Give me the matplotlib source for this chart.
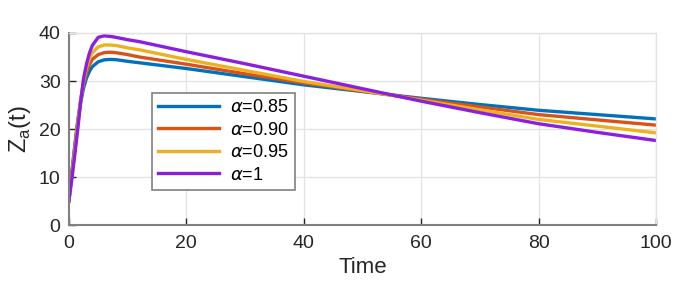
import matplotlib
matplotlib.use("Agg")
import matplotlib.pyplot as plt

# time samples
t = [0, 0.5, 1, 1.5, 2, 2.5, 3, 3.5, 4, 5, 6, 7, 8, 10,
     12, 20, 30, 40, 50, 60, 70, 80, 90, 100]

z_085 = [5, 11, 16.5, 21.5, 25.5, 28.5, 30.6, 32, 33, 34, 34.4, 34.5, 34.45, 34.1,
         33.8, 32.6, 30.9, 29.2, 27.8, 26.4, 25.1, 23.9, 23.0, 22.1]
z_090 = [5, 10.5, 16, 21.3, 26, 29.5, 31.8, 33.4, 34.5, 35.5, 35.9, 36.0, 35.9, 35.5,
         35.0, 33.5, 31.5, 29.6, 27.9, 26.2, 24.6, 23.0, 21.9, 20.8]
z_095 = [5, 10, 15.3, 20.6, 25.8, 30, 32.8, 34.7, 35.9, 37.1, 37.5, 37.5, 37.4, 36.9,
         36.5, 34.5, 32.2, 29.9, 28.0, 26.0, 24.0, 22.0, 20.6, 19.2]
z_100 = [5, 9.5, 14.5, 19.8, 25.5, 30.5, 33.5, 35.8, 37.4, 39.1, 39.4, 39.3, 39.1, 38.6,
         38.2, 36.1, 33.6, 31.0, 28.4, 25.8, 23.4, 21.1, 19.3, 17.6]

labels = [r'$\alpha$=0.85', r'$\alpha$=0.90', r'$\alpha$=0.95', r'$\alpha$=1']
colors = ['#0072BD', '#D95319', '#EDB120', '#8A1FE0']

plt.rcParams['font.family'] = ['Liberation Sans', 'DejaVu Sans']
plt.rcParams['mathtext.fontset'] = 'dejavusans'

fig = plt.figure(figsize=(6.75, 2.82), dpi=100)
ax = fig.add_axes([0.102, 0.202, 0.870, 0.681])

for z, lab, c in zip([z_085, z_090, z_095, z_100], labels, colors):
    ax.plot(t, z, color=c, lw=2.4, label=lab)

ax.set_xlim(0, 100)
ax.set_ylim(0, 40)
ax.set_xticks([0, 20, 40, 60, 80, 100])
ax.set_yticks([0, 10, 20, 30, 40])
ax.grid(True, color='#e3e3e3', lw=0.9)
ax.set_axisbelow(True)

for s in ['left', 'bottom']:
    ax.spines[s].set_color('#808080')
    ax.spines[s].set_linewidth(1.5)
for s in ['top', 'right']:
    ax.spines[s].set_color('#e3e3e3')
    ax.spines[s].set_linewidth(1.0)

ax.tick_params(direction='in', length=5, width=1, colors='#262626', labelsize=14)
ax.tick_params(axis='x', pad=7)
ax.tick_params(axis='y', pad=6)
ax.set_xlabel('Time', fontsize=16, color='#262626', labelpad=4)
ax.set_ylabel(r'Z$_{\mathregular{a}}$(t)', fontsize=17, color='#262626', labelpad=4)

leg = ax.legend(loc='upper left', bbox_to_anchor=(0.141, 0.6875), borderaxespad=0,
                fontsize=13, fancybox=False, framealpha=1, edgecolor='#808080',
                handlelength=3.4, handletextpad=0.6, labelspacing=0.3,
                borderpad=0.35)
leg.get_frame().set_linewidth(1.2)

fig.savefig('out.png', dpi=100)
